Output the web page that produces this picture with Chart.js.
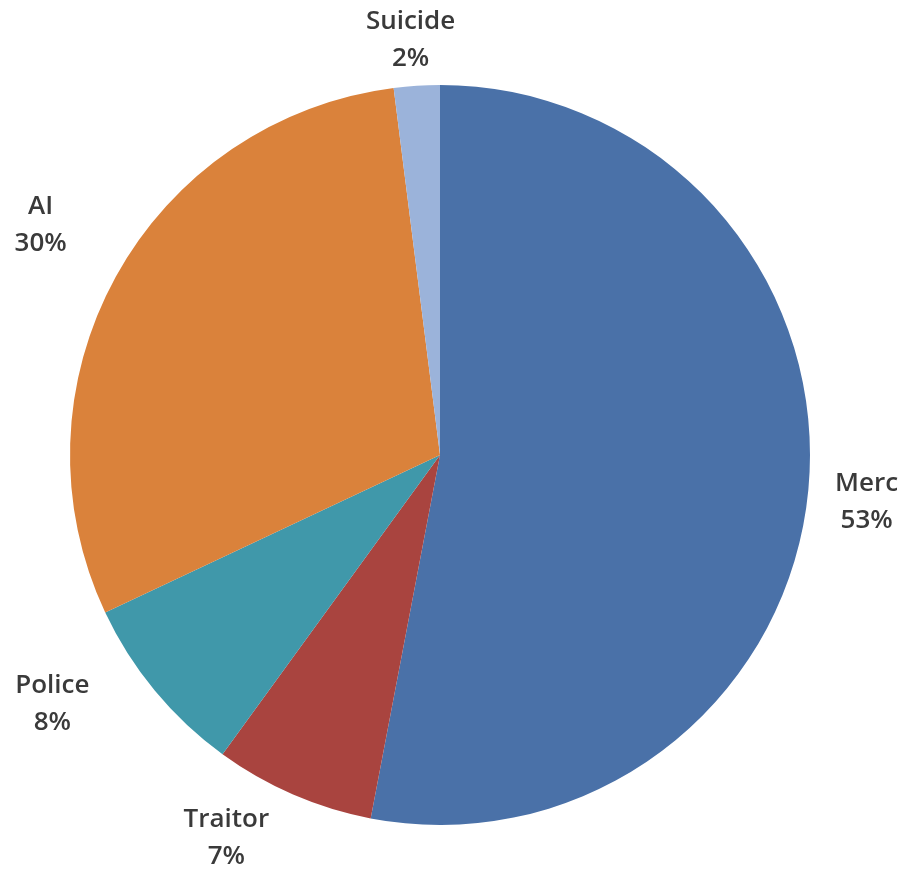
<!DOCTYPE html>
<html>
<head>
<meta charset="utf-8">
<script src="https://cdn.jsdelivr.net/npm/chart.js@4"></script>
<style>
  html, body { margin: 0; padding: 0; background: #fff; }
  #wrap { width: 905px; height: 873px; }
</style>
</head>
<body>
<div id="wrap"><canvas id="deathPie"></canvas></div>
<script>
const categories = ['Merc', 'Traitor', 'Police', 'AI', 'Suicide'];
const shares = [53, 7, 8, 30, 2];
const sliceColors = ['#4a71a8', '#a9443f', '#4098aa', '#da823b', '#9bb3da'];

// Category name and percentage drawn outside each slice
const outsideLabels = {
  id: 'outsideLabels',
  afterDatasetsDraw(chart, args, opts) {
    const ctx = chart.ctx;
    const meta = chart.getDatasetMeta(0);
    const total = shares.reduce((a, b) => a + b, 0);
    ctx.save();
    ctx.font = opts.font;
    ctx.fillStyle = opts.color;
    ctx.textAlign = 'center';
    ctx.textBaseline = 'middle';
    meta.data.forEach((arc, i) => {
      const { x, y, startAngle, endAngle, outerRadius } = arc.getProps(['x', 'y', 'startAngle', 'endAngle', 'outerRadius'], true);
      const mid = (startAngle + endAngle) / 2;
      const dx = Math.cos(mid), dy = Math.sin(mid);
      const lines = [categories[i], Math.round(shares[i] / total * 100) + '%'];
      const w = Math.max(...lines.map(t => ctx.measureText(t).width));
      const h = lines.length * opts.lineHeight;
      const r = outerRadius + opts.pad;
      const nudge = opts.nudge[i] || [0, 0];
      const cx = x + dx * r + dx * w / 2 + nudge[0];
      const cy = y + dy * r + dy * h / 2 + nudge[1];
      lines.forEach((t, k) => {
        ctx.fillText(t, cx, cy - h / 2 + opts.lineHeight * (k + 0.5));
      });
    });
    ctx.restore();
  }
};

new Chart(document.getElementById('deathPie').getContext('2d'), {
  type: 'pie',
  data: {
    labels: categories,
    datasets: [{
      data: shares,
      backgroundColor: sliceColors,
      borderWidth: 0
    }]
  },
  options: {
    responsive: true,
    maintainAspectRatio: false,
    animation: false,
    layout: { padding: { top: 85, bottom: 48, left: 70, right: 95 } },
    plugins: {
      legend: { display: false },
      tooltip: { enabled: false },
      outsideLabels: {
        font: '600 26px "Open Sans"',
        color: '#3a3a3a',
        lineHeight: 37,
        pad: 22,
        // hand-placed label shifts, in px
        nudge: [[5, 7], [-41, -11], [-57, -24], [-33, -23], [-2, 13]]
      }
    }
  },
  plugins: [outsideLabels]
});
</script>
</body>
</html>
